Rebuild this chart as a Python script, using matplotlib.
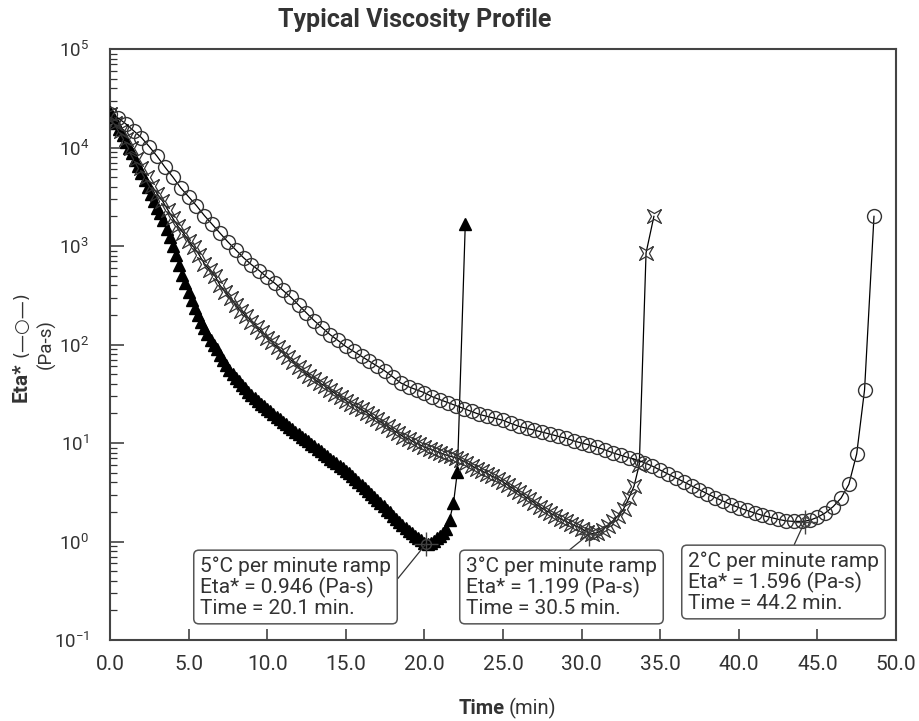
import matplotlib
matplotlib.use("Agg")
import matplotlib.pyplot as plt
from matplotlib.ticker import LogLocator, FixedLocator, FixedFormatter

plt.rcParams["font.family"] = ["Roboto", "DejaVu Sans"]

# 2 C/min ramp (open circles)
t_circle = [0.0, 0.5, 1.0, 1.5, 2.0, 2.5, 3.0, 3.5, 4.0, 4.5, 5.0, 5.5, 6.0, 6.5, 7.0, 7.5,
            8.0, 8.5, 9.0, 9.5, 10.0, 10.5, 11.0, 11.5, 12.0, 12.5, 13.0, 13.5, 14.0, 14.5,
            15.0, 15.5, 16.0, 16.5, 17.0, 17.5, 18.0, 18.5, 19.0, 19.5, 20.0, 20.5, 21.0,
            21.5, 22.0, 22.5, 23.0, 23.5, 24.0, 24.5, 25.0, 25.5, 26.0, 26.5, 27.0, 27.5,
            28.0, 28.5, 29.0, 29.5, 30.0, 30.5, 31.0, 31.5, 32.0, 32.5, 33.0, 33.5, 34.0,
            34.5, 35.0, 35.5, 36.0, 36.5, 37.0, 37.5, 38.0, 38.5, 39.0, 39.5, 40.0, 40.5,
            41.0, 41.5, 42.0, 42.5, 43.0, 43.5, 44.0, 44.5, 45.0, 45.5, 46.0, 46.5, 47.0,
            47.5, 48.0, 48.6]
eta_circle = [21900, 20000, 17400, 14800, 12600, 10200, 8130, 6310, 5010, 3890, 3160, 2570,
              2040, 1660, 1350, 1100, 912, 759, 646, 562, 479, 417, 355, 302, 251, 209, 174,
              148, 126, 110, 95.5, 85.1, 75.9, 67.6, 60.3, 53.7, 46.8, 40.7, 37.2, 34.7,
              32.4, 29.5, 27.5, 25.7, 24.0, 22.4, 20.9, 19.5, 18.6, 17.8, 17.0, 15.8, 14.8,
              14.1, 13.5, 12.9, 12.3, 11.7, 11.2, 10.5, 10.0, 9.55, 9.02, 8.51, 7.94, 7.50,
              7.08, 6.76, 6.31, 5.82, 5.31, 4.84, 4.42, 4.03, 3.67, 3.35, 3.05, 2.79, 2.57,
              2.37, 2.21, 2.07, 1.95, 1.84, 1.76, 1.68, 1.62, 1.60, 1.60, 1.64, 1.76, 1.95,
              2.26, 2.75, 3.80, 7.76, 34.7, 2000]

# 3 C/min ramp (stars)
t_star = [0.00, 0.33, 0.67, 1.00, 1.33, 1.67, 2.00, 2.33, 2.67, 3.00, 3.33, 3.67, 4.00, 4.33,
          4.67, 5.00, 5.33, 5.67, 6.00, 6.33, 6.67, 7.00, 7.33, 7.67, 8.00, 8.33, 8.67, 9.00,
          9.33, 9.67, 10.00, 10.33, 10.67, 11.00, 11.33, 11.67, 12.00, 12.33, 12.67, 13.00,
          13.33, 13.67, 14.00, 14.33, 14.67, 15.00, 15.33, 15.67, 16.00, 16.33, 16.67, 17.00,
          17.33, 17.67, 18.00, 18.33, 18.67, 19.00, 19.33, 19.67, 20.00, 20.33, 20.67, 21.00,
          21.33, 21.67, 22.00, 22.33, 22.67, 23.00, 23.33, 23.67, 24.00, 24.33, 24.67, 25.00,
          25.33, 25.67, 26.00, 26.33, 26.67, 27.00, 27.33, 27.67, 28.00, 28.33, 28.67, 29.00,
          29.33, 29.67, 30.00, 30.33, 30.67, 31.00, 31.33, 31.67, 32.00, 32.33, 32.67, 33.00,
          33.33, 33.67, 34.10, 34.60]
eta_star = [21900, 17800, 14800, 12300, 10000, 7590, 6170, 5010, 4070, 3390, 2880, 2340,
            1910, 1580, 1350, 1120, 977, 813, 661, 575, 501, 398, 339, 295, 251, 219, 195,
            170, 151, 135, 117, 105, 93.3, 83.2, 74.1, 66.1, 58.9, 53.7, 47.9, 44.7, 40.7,
            38.0, 34.7, 31.6, 29.5, 26.9, 25.1, 23.4, 21.9, 20.4, 18.6, 17.4, 15.8, 14.8,
            13.5, 12.6, 11.5, 11.0, 10.2, 9.66, 9.12, 8.71, 8.32, 7.94, 7.59, 7.33, 7.08,
            6.76, 6.31, 5.89, 5.50, 5.19, 4.90, 4.57, 4.32, 4.03, 3.72, 3.43, 3.16, 2.92,
            2.69, 2.45, 2.26, 2.09, 1.95, 1.82, 1.70, 1.60, 1.51, 1.43, 1.35, 1.26, 1.20,
            1.23, 1.32, 1.45, 1.62, 1.82, 2.14, 2.75, 3.63, 6.03, 851, 2000]

# 5 C/min ramp (filled triangles)
t_tri = [0.0, 0.2, 0.4, 0.6, 0.8, 1.0, 1.2, 1.4, 1.6, 1.8, 2.0, 2.2, 2.4, 2.6, 2.8, 3.0, 3.2,
         3.4, 3.6, 3.8, 4.0, 4.2, 4.4, 4.6, 4.8, 5.0, 5.2, 5.4, 5.6, 5.8, 6.0, 6.2, 6.4, 6.6,
         6.8, 7.0, 7.2, 7.4, 7.6, 7.8, 8.0, 8.2, 8.4, 8.6, 8.8, 9.0, 9.2, 9.4, 9.6, 9.8, 10.0,
         10.2, 10.4, 10.6, 10.8, 11.0, 11.2, 11.4, 11.6, 11.8, 12.0, 12.2, 12.4, 12.6, 12.8,
         13.0, 13.2, 13.4, 13.6, 13.8, 14.0, 14.2, 14.4, 14.6, 14.8, 15.0, 15.2, 15.4, 15.6,
         15.8, 16.0, 16.2, 16.4, 16.6, 16.8, 17.0, 17.2, 17.4, 17.6, 17.8, 18.0, 18.2, 18.4,
         18.6, 18.8, 19.0, 19.2, 19.4, 19.6, 19.8, 20.0, 20.2, 20.4, 20.6, 20.8, 21.0, 21.2,
         21.4, 21.6, 21.85, 22.1, 22.6]
eta_tri = [22900, 20400, 17800, 15500, 13500, 11500, 10000, 8710, 7410, 6460, 5500, 4680,
           3980, 3390, 2880, 2450, 2140, 1820, 1480, 1230, 1000, 813, 646, 513, 417, 339,
           282, 234, 200, 170, 148, 129, 112, 100, 89.1, 77.6, 69.2, 61.7, 55.6, 50.1, 46.2,
           42.7, 38.9, 35.9, 33.1, 30.9, 28.8, 26.9, 25.1, 23.7, 22.4, 20.9, 19.5, 18.4,
           17.4, 16.4, 15.5, 14.6, 13.8, 13.0, 12.3, 11.6, 11.0, 10.4, 9.77, 9.23, 8.71,
           8.22, 7.76, 7.33, 6.92, 6.61, 6.24, 5.89, 5.56, 5.25, 4.95, 4.62, 4.32, 4.03,
           3.76, 3.51, 3.27, 3.05, 2.85, 2.63, 2.45, 2.29, 2.11, 1.97, 1.82, 1.70, 1.58,
           1.48, 1.38, 1.29, 1.22, 1.15, 1.08, 1.04, 0.96, 0.95, 0.97, 1.02, 1.08, 1.15,
           1.23, 1.35, 1.66, 2.45, 5.13, 1660]

# minimum viscosity callouts
min_times = [20.1, 30.5, 44.2]
min_etas = [0.946, 1.199, 1.596]
min_labels = ["5°C per minute ramp\nEta* = 0.946 (Pa-s)\nTime = 20.1 min.",
              "3°C per minute ramp\nEta* = 1.199 (Pa-s)\nTime = 30.5 min.",
              "2°C per minute ramp\nEta* = 1.596 (Pa-s)\nTime = 44.2 min."]

x_ticks = [0, 5, 10, 15, 20, 25, 30, 35, 40, 45, 50]
x_ticklabels = ["0.0", "5.0", "10.0", "15.0", "20.0", "25.0", "30.0", "35.0", "40.0", "45.0", "50.0"]

# concave 4 point star, tips on the diagonals
r = 0.3
star_verts = [(0.707, 0.707), (r, 0), (0.707, -0.707), (0, -r), (-0.707, -0.707),
              (-r, 0), (-0.707, 0.707), (0, r), (0.707, 0.707)]

fig = plt.figure(figsize=(9.2, 7.21), dpi=100)
ax = fig.add_axes([110 / 920, 1 - 640 / 721, 786 / 920, 591 / 721])

ax.plot(t_tri, eta_tri, color="black", lw=0.9, marker="^", ms=8.5, mfc="black",
        mec="black", zorder=3)
ax.plot(t_star, eta_star, color="black", lw=0.9, marker=star_verts, ms=10, mfc="none",
        mec="#333333", mew=0.9, zorder=4)
ax.plot(t_circle, eta_circle, color="black", lw=0.9, marker="o", ms=10, mfc="none",
        mec="#333333", mew=1.0, zorder=5)

# crosshair marks at the minima
ax.plot(min_times, min_etas, ls="none", marker="o", ms=7, mfc="none", mec="#444444",
        mew=1.0, zorder=6)
ax.plot(min_times, min_etas, ls="none", marker="+", ms=17, mec="#444444", mew=1.0, zorder=6)

ax.set_yscale("log")
ax.set_ylim(0.1, 1e5)
ax.set_xlim(0, 50)
ax.xaxis.set_major_locator(FixedLocator(x_ticks))
ax.xaxis.set_major_formatter(FixedFormatter(x_ticklabels))
ax.yaxis.set_major_locator(LogLocator(base=10, numticks=10))
ax.yaxis.set_minor_locator(LogLocator(base=10, subs=range(2, 10), numticks=10))

ax.tick_params(axis="x", which="both", direction="in", length=8, width=1.1, pad=11,
               labelsize=15, colors="#333333", top=False)
ax.tick_params(axis="y", which="major", direction="in", length=10, width=1.1, pad=15,
               labelsize=13.5, colors="#333333", right=False)
ax.tick_params(axis="y", which="minor", direction="in", length=5, width=0.9, right=False,
               colors="#333333")
for s in ax.spines.values():
    s.set_color("#444444")
    s.set_linewidth(1.5)

# callout boxes (positions in figure pixels)
box_text_xy = [(200, 134), (466, 134), (688, 139)]
line_relpos = [(1.0, 0.5), (0.5, 1.0), (0.54, 1.0)]
for tm, et, lab, xy, rp in zip(min_times, min_etas, min_labels, box_text_xy, line_relpos):
    ax.annotate(lab, xy=(tm, et), xycoords="data", xytext=xy, textcoords="figure pixels",
                ha="left", va="center", fontsize=15, color="#333333", linespacing=1.05,
                bbox=dict(boxstyle="round,pad=0.3,rounding_size=0.25", fc="white",
                          ec="#555555", lw=1.1),
                arrowprops=dict(arrowstyle="-", color="#333333", lw=0.9, relpos=rp,
                                shrinkA=0, shrinkB=0),
                zorder=7)

fig.text(415 / 920, 1 - 20 / 721, "Typical Viscosity Profile", ha="center", va="center",
         fontsize=18, fontweight="bold", color="#333333")

fig.text(505 / 920, 1 - 708 / 721, "Time", ha="right", va="center", fontsize=14.5,
         fontweight="bold", color="#333333")
fig.text(509 / 920, 1 - 708 / 721, "(min)", ha="left", va="center", fontsize=14.5,
         color="#333333")

fig.text(21 / 920, 1 - 402 / 721, "Eta*", rotation=90, ha="center", va="bottom",
         fontsize=15, fontweight="bold", color="#333333")
fig.text(21 / 920, 1 - 357 / 721, "(—○—)", rotation=90, ha="center", va="bottom",
         fontsize=13, color="#333333", family=["DejaVu Sans"])
fig.text(46 / 920, 1 - 344 / 721, "(Pa-s)", rotation=90, ha="center", va="center",
         fontsize=13.5, color="#333333")

fig.savefig("out.png", dpi=100)
